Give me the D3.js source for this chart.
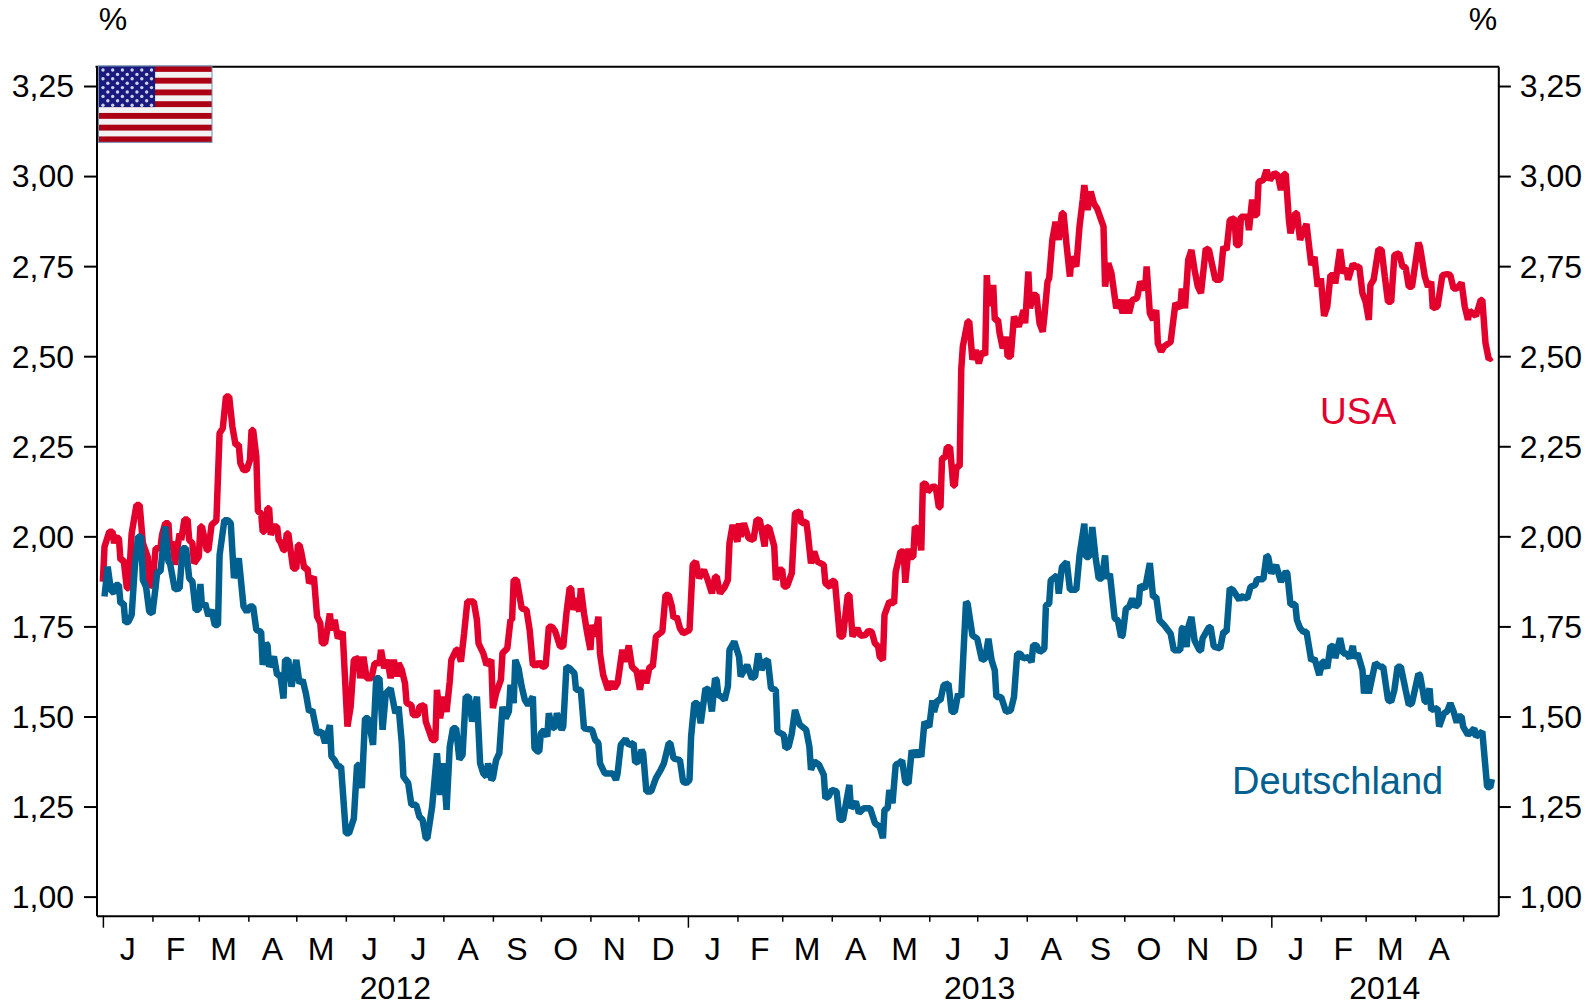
<!DOCTYPE html>
<html lang="de">

<head>
    <meta charset="UTF-8">
    <title>USA / Deutschland</title>
    <style>
    html, body {
        margin: 0;
        background: #fff;
    }

    text {
        font-family: "Liberation Sans", Arial, sans-serif;
        font-size: 32px;
        fill: #000;
    }

    .axis path, .axis line {
        stroke: #000;
        stroke-width: 2px;
    }

    .axis text {
        font-size: 32px;
    }

    .xaxis .tick line {
        stroke-width: 1.5px;
    }

    .series {
        fill: none;
        stroke-width: 6.5px;
        stroke-linejoin: bevel;
        stroke-linecap: butt;
    }
    </style>
</head>

<body>
    <svg width="1595" height="1006"></svg>
    <script src="https://d3js.org/d3.v7.min.js"></script>
<script>
// days since 1 Jan 2012, values in percent
var usaDays = [0,1,4,6,7,8,10,11,13,15,16,18,21,23,25,28,29,31,33,36,37,39,41,42,44,45,48,49,51,53,54,56,57,60,61,62,65,66,68,71,73,75,77,79,81,83,85,86,88,90,92,93,94,96,97,99,100,101,103,104,105,107,109,110,111,113,114,115,116,119,121,122,123,124,126,128,129,132,
    134,136,137,139,142,143,145,147,150,153,155,157,160,161,163,165,168,170,173,174,176,178,180,182,184,185,187,189,190,193,194,197,198,201,202,206,208,209,211,213,215,217,218,221,222,224,226,228,232,234,235,238,240,
    243,244,246,249,250,253,255,256,257,259,262,265,267,269,272,273,275,277,279,281,283,286,288,290,292,293,294,296,298,299,301,303,305,306,308,310,311,313,316,318,320,322,325,327,329,331,334,336,338,340,342,344,346,350,352,354,356,357,359,361,363,367,369,371,373,376,378,381,383,384,386,389,391,392,394,397,398,399,401,404,407,409,411,414,415,417,420,421,423,425,426,428,431,433,436,437,440,441,443,445,447,451,452,455,456,458,461,463,466,467,469,472,474,477,479,481,483,485,486,488,489,492,495,496,499,501,502,504,505,507,508,510,512,
    513,515,516,519,521,523,524,525,527,528,530,532,533,534,536,537,538,541,542,544,546,548,550,552,553,554,556,557,558,560,561,563,565,566,568,570,573,576,577,579,580,582,584,586,588,589,591,592,594,596,598,600,601,603,605,606,609,611,613,614,616,618,620,622,626,627,629,631,634,636,638,640,642,644,647,649,652,653,655,657,659,660,662,664,668,671,674,675,677,679,681,683,685,687,
    690,692,694,696,699,701,703,705,708,709,711,712,716,717,719,720,722,723,726,728,730,733,735,737,739,740,742,743,746,747,749,753,756,758,760,762,764,766,768,770,771,774,776,778,779,782,784,786,788,790,792,793,795,798,800,802,804,806,808,811,813,815,817,819,820,823,824,827,829,831,832,835,838,841,843,845,847,850,852,854,855,859,862,863,865,867,869];

var usaValues = [1.874,1.971,2.013,2.013,1.981,1.997,1.995,1.934,1.934,1.856,1.856,2.008,2.087,2.087,1.981,1.944,1.860,1.870,1.967,1.967,2.004,2.036,2.036,1.962,1.985,1.921,2.008,1.990,2.047,2.047,1.990,1.981,1.925,1.944,2.027,2.027,1.962,1.962,2.032,2.044,2.286,2.300,2.388,2.388,2.305,2.254,2.254,2.203,2.184,2.184,2.212,2.295,2.295,2.221,2.069,2.064,2.013,2.013,2.078,2.078,2.004,2.027,2.027,1.990,1.985,1.962,1.962,2.008,2.008,1.911,1.911,1.976,1.976,1.958,1.911,1.911,1.870,1.888,
    1.777,1.759,1.703,1.703,1.786,1.740,1.768,1.717,1.735,1.472,1.527,1.657,1.662,1.606,1.666,1.606,1.606,1.648,1.648,1.685,1.634,1.657,1.606,1.657,1.611,1.648,1.629,1.592,1.537,1.532,1.504,1.504,1.527,1.532,1.486,1.435,1.435,1.574,1.495,1.555,1.513,1.597,1.657,1.685,1.685,1.652,1.731,1.819,1.819,1.768,1.703,1.675,1.643,
    1.657,1.523,1.564,1.602,1.676,1.689,1.768,1.768,1.879,1.879,1.800,1.796,1.740,1.643,1.643,1.652,1.638,1.640,1.749,1.749,1.736,1.694,1.694,1.786,1.856,1.856,1.796,1.828,1.791,1.856,1.786,1.731,1.685,1.754,1.722,1.777,1.675,1.615,1.574,1.597,1.578,1.592,1.685,1.652,1.697,1.638,1.625,1.574,1.629,1.592,1.638,1.638,1.722,1.736,1.837,1.837,1.805,1.773,1.777,1.745,1.731,1.740,1.921,1.930,1.884,1.907,1.884,1.842,1.888,1.888,1.842,1.859,1.879,1.981,2.032,1.985,2.036,1.999,2.036,1.995,1.990,2.047,2.045,1.972,2.027,2.022,1.972,1.879,1.907,1.907,1.861,1.861,1.898,2.064,2.069,2.036,2.041,2.009,1.925,1.958,1.930,1.921,1.870,1.859,1.877,1.874,1.722,1.722,1.837,1.837,1.722,1.745,1.724,1.726,1.738,1.735,1.703,1.694,1.666,1.657,1.782,1.819,1.814,1.902,1.958,1.957,1.871,1.966,1.943,1.943,2.026,2.021,1.961,
    2.147,2.145,2.124,2.138,2.138,2.081,2.081,2.217,2.219,2.247,2.247,2.141,2.141,2.194,2.194,2.462,2.527,2.596,2.596,2.490,2.517,2.480,2.513,2.503,2.725,2.647,2.647,2.698,2.601,2.601,2.564,2.522,2.554,2.499,2.499,2.610,2.582,2.628,2.591,2.735,2.633,2.670,2.670,2.591,2.568,2.610,2.707,2.716,2.823,2.873,2.823,2.897,2.897,2.804,2.721,2.776,2.749,2.860,2.934,2.975,2.906,2.957,2.924,2.910,2.860,2.693,2.758,2.730,2.633,2.656,2.619,2.656,2.619,2.656,2.661,2.707,2.684,2.749,2.619,2.601,2.628,2.536,2.513,2.527,2.540,2.647,2.633,2.688,2.633,2.767,2.795,2.739,2.693,2.675,
    2.799,2.795,2.753,2.712,2.712,2.804,2.795,2.878,2.883,2.809,2.809,2.887,2.887,2.850,2.935,2.892,2.892,2.984,2.989,3.017,2.989,3.008,3.003,2.961,3.006,3.006,2.878,2.841,2.897,2.897,2.823,2.867,2.753,2.776,2.693,2.716,2.612,2.638,2.725,2.725,2.702,2.797,2.730,2.744,2.712,2.756,2.747,2.749,2.675,2.651,2.601,2.698,2.712,2.797,2.795,2.721,2.651,2.651,2.781,2.786,2.749,2.747,2.693,2.693,2.723,2.815,2.804,2.721,2.693,2.707,2.633,2.638,2.725,2.728,2.725,2.688,2.688,2.704,2.638,2.601,2.626,2.612,2.656,2.656,2.536,2.491,2.497];

var deDays = [1,3,5,7,8,10,11,13,14,16,18,20,22,24,25,27,29,31,33,34,36,39,41,42,45,48,49,50,52,54,56,58,60,61,62,64,66,68,70,72,73,76,78,80,82,85,88,90,92,94,96,
    99,100,102,103,104,107,109,111,113,114,116,118,121,123,125,127,129,131,134,137,139,142,143,145,147,149,152,154,157,159,160,162,164,166,169,171,173,175,177,180,183,185,187,188,191,193,196,198,200,202,203,206,209,211,213,215,217,219,221,223,225,227,229,231,234,236,238,240,
    241,243,244,246,248,250,252,254,255,257,258,260,262,264,266,269,270,272,273,274,276,278,279,281,283,284,287,288,290,292,295,296,299,301,306,308,310,311,314,319,321,322,324,327,329,332,333,335,337,338,340,343,346,349,351,354,355,357,361,363,365,367,368,370,372,374,377,379,381,383,384,385,387,389,391,392,395,398,399,403,406,408,410,412,414,416,418,421,422,426,427,429,431,433,436,440,442,443,445,448,451,452,454,456,459,461,463,467,468,471,473,476,480,483,486,488,489,491,492,494,496,498,
    500,502,504,506,508,510,512,514,517,519,520,522,524,526,529,531,533,535,537,540,541,544,547,550,552,554,556,558,559,562,565,568,570,572,574,576,579,581,582,584,586,589,590,592,593,597,598,600,603,605,609,611,614,615,617,619,621,623,625,627,628,630,633,635,637,638,640,642,644,646,648,649,652,655,657,659,661,664,668,670,674,675,676,678,679,681,683,686,
    687,688,692,693,695,699,701,703,705,707,711,712,716,718,721,722,726,728,729,731,734,737,740,741,743,746,747,749,751,753,756,758,761,763,764,766,768,770,771,774,776,778,780,782,783,785,788,789,791,792,796,799,801,804,806,808,810,812,815,817,819,823,824,827,828,830,831,835,836,839,841,843,845,847,848,850,851,854,858,859,863,866,868,869];

var deValues = [1.833,1.916,1.851,1.842,1.865,1.865,1.814,1.814,1.761,1.763,1.782,1.916,1.999,1.999,1.879,1.860,1.791,1.786,1.860,1.902,1.902,2.027,1.930,1.925,1.853,1.856,1.916,1.967,1.967,1.884,1.874,1.796,1.796,1.868,1.805,1.814,1.779,1.796,1.754,1.754,1.948,2.045,2.045,2.036,1.884,1.939,1.805,1.791,1.805,1.805,1.740,
    1.735,1.643,1.703,1.698,1.638,1.666,1.615,1.615,1.550,1.657,1.657,1.583,1.657,1.592,1.601,1.564,1.513,1.518,1.453,1.458,1.426,1.476,1.389,1.379,1.361,1.361,1.176,1.176,1.217,1.365,1.365,1.301,1.495,1.495,1.421,1.606,1.606,1.463,1.564,1.578,1.509,1.527,1.426,1.333,1.315,1.255,1.255,1.222,1.213,1.162,1.162,1.250,1.398,1.282,1.370,1.241,1.416,1.467,1.467,1.381,1.393,1.555,1.555,1.486,1.555,1.370,1.342,1.333,
    1.370,1.324,1.329,1.379,1.398,1.527,1.495,1.514,1.588,1.537,1.657,1.634,1.583,1.546,1.532,1.555,1.412,1.403,1.403,1.453,1.463,1.444,1.509,1.467,1.472,1.509,1.463,1.472,1.638,1.634,1.620,1.574,1.574,1.467,1.463,1.435,1.426,1.370,1.342,1.342,1.324,1.342,1.421,1.437,1.421,1.426,1.372,1.375,1.407,1.398,1.292,1.292,1.329,1.352,1.370,1.426,1.426,1.384,1.379,1.319,1.315,1.324,1.444,1.537,1.537,1.481,1.578,1.574,1.514,1.606,1.601,1.560,1.555,1.546,1.583,1.685,1.708,1.666,1.611,1.643,1.606,1.611,1.675,1.629,1.652,1.657,1.578,1.574,1.458,1.449,1.412,1.416,1.453,1.518,1.477,1.463,1.416,1.352,1.375,1.366,1.338,1.273,1.278,1.296,1.292,1.213,1.213,1.310,1.245,1.264,1.232,1.245,1.245,1.204,1.194,1.162,1.241,1.245,1.296,1.259,1.366,1.370,
    1.378,1.318,1.314,1.406,1.388,1.406,1.388,1.485,1.471,1.545,1.513,1.545,1.545,1.587,1.591,1.513,1.513,1.563,1.554,1.818,1.813,1.725,1.716,1.656,1.661,1.716,1.656,1.628,1.554,1.554,1.513,1.517,1.554,1.674,1.674,1.661,1.665,1.651,1.698,1.698,1.679,1.688,1.809,1.813,1.878,1.892,1.841,1.915,1.929,1.852,1.852,1.947,2.035,1.943,1.943,2.026,1.943,1.883,1.883,1.947,1.883,1.896,1.772,1.767,1.721,1.725,1.799,1.804,1.827,1.804,1.813,1.864,1.855,1.926,1.832,1.832,1.767,1.753,1.730,1.684,1.684,1.744,1.748,1.693,1.748,1.776,1.711,1.684,
    1.683,1.717,1.748,1.748,1.694,1.689,1.735,1.735,1.856,1.851,1.823,1.834,1.828,1.860,1.865,1.881,1.881,1.946,1.944,1.897,1.920,1.874,1.902,1.897,1.810,1.812,1.768,1.745,1.735,1.735,1.655,1.661,1.615,1.652,1.652,1.634,1.696,1.694,1.662,1.717,1.675,1.675,1.662,1.696,1.662,1.675,1.629,1.564,1.615,1.564,1.648,1.638,1.638,1.546,1.541,1.574,1.638,1.638,1.574,1.532,1.537,1.618,1.615,1.541,1.541,1.578,1.518,1.523,1.472,1.509,1.514,1.537,1.514,1.483,1.500,1.500,1.472,1.449,1.467,1.444,1.458,1.305,1.303,1.326];

var yTicks = [1, 1.25, 1.5, 1.75, 2, 2.25, 2.5, 2.75, 3, 3.25];
var monthLabels = "JFMAMJJASONDJFMAMJJASONDJFMA".split("");
var yearLabels = ["2012", "2013", "2014"];

var svg = d3.select("svg"),
    left = 96.5, right = 1498.3, top_ = 66.7, bottom = 915.7;

var t0 = new Date(Date.UTC(2012, 0, 1));
function day(n) { return d3.utcDay.offset(t0, n); }

var x = d3.scaleUtc().domain([day(-4), day(873)]).range([left, right]);
var y = d3.scaleLinear().domain([0.947, 3.3036]).range([bottom, top_]);

var fmt = function(d) { return d3.format(".2f")(d).replace(".", ","); };

// frame: left, right and bottom axes plus top rule
svg.append("g").attr("class", "axis")
    .attr("transform", "translate(" + left + ",0)")
    .call(d3.axisLeft(y).tickValues(yTicks).tickFormat(fmt).tickSize(12.5).tickSizeOuter(0).tickPadding(10))
    .call(function(g) { g.selectAll("text").attr("dy", "0.34em"); });

svg.append("g").attr("class", "axis")
    .attr("transform", "translate(" + right + ",0)")
    .call(d3.axisRight(y).tickValues(yTicks).tickFormat(fmt).tickSize(12.5).tickSizeOuter(0).tickPadding(9))
    .call(function(g) { g.selectAll("text").attr("dy", "0.34em"); });

var months = d3.utcMonth.range(day(0), day(873));

svg.append("g").attr("class", "axis xaxis")
    .attr("transform", "translate(0," + bottom + ")")
    .call(d3.axisBottom(x).tickValues(months).tickFormat("").tickSize(6).tickSizeOuter(0))
    .call(function(g) {
        // the year starts get the long ticks
        g.selectAll(".tick line")
            .attr("y2", function(d) { return d.getUTCMonth() === 0 ? 12 : 6; });
    });

svg.append("line")
    .attr("x1", left - 1).attr("x2", right + 1)
    .attr("y1", top_).attr("y2", top_)
    .attr("stroke", "#000").attr("stroke-width", 2);

// month letters sit between their ticks
svg.append("g").selectAll("text")
    .data(monthLabels)
    .enter().append("text")
    .attr("text-anchor", "middle")
    .attr("x", function(d, i) {
        var m = months[i];
        return (x(m) + x(d3.utcMonth.offset(m, 1))) / 2;
    })
    .attr("y", 960)
    .text(function(d) { return d; });

svg.append("g").selectAll("text")
    .data(yearLabels)
    .enter().append("text")
    .attr("text-anchor", "middle")
    .attr("x", function(d) {
        var a = new Date(Date.UTC(+d, 0, 1)),
            b = new Date(Date.UTC(+d + 1, 0, 1));
        return (x(a) + Math.min(x(b), right)) / 2;
    })
    .attr("y", 999)
    .text(function(d) { return d; });

svg.append("text").attr("x", 113).attr("y", 30).attr("text-anchor", "middle").text("%");
svg.append("text").attr("x", 1483).attr("y", 30).attr("text-anchor", "middle").text("%");

// lines
var line = d3.line()
    .x(function(d) { return x(day(d[0])); })
    .y(function(d) { return y(d[1]); });

svg.append("path").attr("class", "series")
    .attr("stroke", "#e4002c")
    .attr("d", line(d3.zip(usaDays, usaValues)));

svg.append("path").attr("class", "series")
    .attr("stroke", "#006090")
    .attr("d", line(d3.zip(deDays, deValues)));

svg.append("text").attr("x", 1320).attr("y", 424)
    .style("font-size", "37px").style("fill", "#e4002c").text("USA");
svg.append("text").attr("x", 1232).attr("y", 794)
    .style("font-size", "38px").style("fill", "#006090").text("Deutschland");

// flag in the top left corner
var flag = svg.append("g").attr("transform", "translate(98.5,66)");
var flagW = 113.5, flagH = 76.3, stripe = flagH / 13;

flag.append("rect").attr("width", flagW).attr("height", flagH).attr("fill", "#f2f2f2");
flag.selectAll(".stripe")
    .data(d3.range(0, 13, 2))
    .enter().append("rect")
    .attr("class", "stripe")
    .attr("y", function(d) { return d * stripe; })
    .attr("width", flagW).attr("height", stripe)
    .attr("fill", "#ac0014");
flag.append("rect").attr("width", 56.6).attr("height", stripe * 7).attr("fill", "#1a1a7e");

var star = d3.symbol().type(d3.symbolCircle).size(9)();
d3.range(9).forEach(function(r) {
    d3.range(r % 2 ? 5 : 6).forEach(function(c) {
        flag.append("path").attr("d", star).attr("fill", "#cfd3ea")
            .attr("transform", "translate(" + (4.5 + c * 9.7 + (r % 2 ? 4.85 : 0)) + "," + (4 + r * 4.4) + ")");
    });
});

flag.append("rect").attr("width", flagW).attr("height", flagH)
    .attr("fill", "none").attr("stroke", "#6a8fb5").attr("stroke-width", 1);
</script>
</body>

</html>
